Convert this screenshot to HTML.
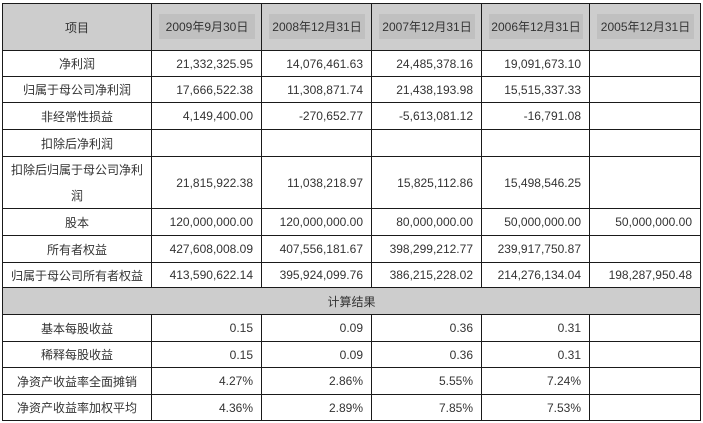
<!DOCTYPE html>
<html><head><meta charset="utf-8"><style>
body{margin:0;width:703px;height:423px;background:#fff;position:relative;overflow:hidden;font-family:"Liberation Sans","Noto Sans CJK SC",sans-serif;font-size:12px;color:#333}
.c{position:absolute;box-sizing:border-box;border:1px solid #1a1a1a;display:flex;align-items:center}
.h{background:#cdcdcd;justify-content:center}
.b{position:absolute;left:7px;right:6px;top:10px;height:25px;background:#c0c0c0;display:flex;align-items:center;justify-content:center}
.l{justify-content:center;text-align:center}
.r{justify-content:flex-end;padding-right:8px}
.s{background:#cdcdcd;justify-content:center}
</style></head><body>
<div id="t"></div>
<script>
var xs=[2,151,261,371,481,589,700];
var ys=[3,50,76,102,129,156,208,235,262,287,314,341,367,394,420];
var h=["项目","2009年9月30日","2008年12月31日","2007年12月31日","2006年12月31日","2005年12月31日"];
var rows=[
["净利润","21,332,325.95","14,076,461.63","24,485,378.16","19,091,673.10",""],
["归属于母公司净利润","17,666,522.38","11,308,871.74","21,438,193.98","15,515,337.33",""],
["非经常性损益","4,149,400.00","-270,652.77","-5,613,081.12","-16,791.08",""],
["扣除后净利润","","","","",""],
["扣除后归属于母公司净利<br>润","21,815,922.38","11,038,218.97","15,825,112.86","15,498,546.25",""],
["股本","120,000,000.00","120,000,000.00","80,000,000.00","50,000,000.00","50,000,000.00"],
["所有者权益","427,608,008.09","407,556,181.67","398,299,212.77","239,917,750.87",""],
["归属于母公司所有者权益","413,590,622.14","395,924,099.76","386,215,228.02","214,276,134.04","198,287,950.48"],
null,
["基本每股收益","0.15","0.09","0.36","0.31",""],
["稀释每股收益","0.15","0.09","0.36","0.31",""],
["净资产收益率全面摊销","4.27%","2.86%","5.55%","7.24%",""],
["净资产收益率加权平均","4.36%","2.89%","7.85%","7.53%",""]];
var o="";
function cell(x0,x1,y0,y1,cls,txt,extra){o+='<div class="c '+cls+'" style="left:'+x0+'px;top:'+y0+'px;width:'+(x1-x0+1)+'px;height:'+(y1-y0+1)+'px;'+(extra||'')+'">'+txt+'</div>';}
for(var j=0;j<6;j++){cell(xs[j],xs[j+1],ys[0],ys[1],'h',j==0?h[0]:'<div class="b">'+h[j]+'</div>');}
for(var i=0;i<rows.length;i++){var y0=ys[i+1],y1=ys[i+2];
 if(!rows[i]){cell(xs[0],xs[6],y0,y1,'s','计算结果');continue;}
 for(var j=0;j<6;j++){cell(xs[j],xs[j+1],y0,y1,j==0?'l':'r',rows[i][j],j==0&&i==4?'line-height:26px;padding:0 8px':'');}
}
document.getElementById('t').innerHTML=o;
</script>
</body></html>
